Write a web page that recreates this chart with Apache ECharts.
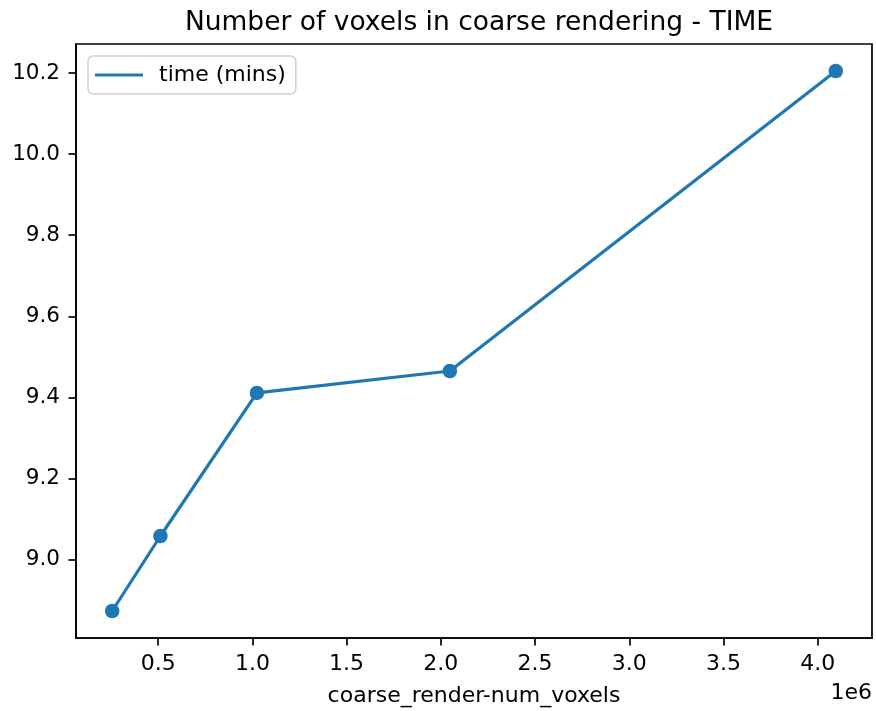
<!DOCTYPE html>
<html>
<head>
<meta charset="utf-8">
<script src="https://cdn.jsdelivr.net/npm/echarts@6/dist/echarts.min.js"></script>
<style>
  html, body { margin: 0; padding: 0; background: #fff; }
  #chart { width: 876px; height: 711px; }
</style>
</head>
<body>
<div id="chart"></div>
<script>
// Render time against coarse voxel count
const voxelCounts = [256000, 512000, 1024000, 2048000, 4096000];
const timeMins = [8.873, 9.058, 9.411, 9.465, 10.205];
const xTicks = [500000, 1000000, 1500000, 2000000, 2500000, 3000000, 3500000, 4000000];
const yTicks = [9.0, 9.2, 9.4, 9.6, 9.8, 10.0, 10.2];
const seriesName = 'time (mins)';

const FONT = 'DejaVu Sans';
const BLUE = '#1f77b4';

// 5% padding around the data range on both axes
const xSpan = voxelCounts[voxelCounts.length - 1] - voxelCounts[0];
const xMin = voxelCounts[0] - 0.05 * xSpan;
const xMax = voxelCounts[voxelCounts.length - 1] + 0.05 * xSpan;
const yLo = Math.min(...timeMins), yHi = Math.max(...timeMins);
const yMin = yLo - 0.05 * (yHi - yLo);
const yMax = yHi + 0.05 * (yHi - yLo);

const chart = echarts.init(document.getElementById('chart'), null, { renderer: 'canvas' });

const axisCommon = {
  axisLine: { show: true, onZero: false, lineStyle: { color: '#000', width: 1.7 } },
  axisTick: { show: true, inside: false, length: 7.5, lineStyle: { color: '#000', width: 1.7 } },
  splitLine: { show: false },
};

chart.setOption({
  animation: false,
  backgroundColor: '#fff',
  title: {
    text: 'Number of voxels in coarse rendering - TIME',
    left: 474, top: 5, textAlign: 'center',
    textStyle: { fontFamily: FONT, fontSize: 26.5, fontWeight: 'normal', color: '#000' }
  },
  grid: {
    left: 76, top: 44, right: 4, bottom: 73,
    containLabel: false, outerBoundsMode: 'none',
    show: true, borderColor: '#000', borderWidth: 1.7, backgroundColor: 'transparent'
  },
  legend: {
    show: true,
    left: 88, top: 56,
    orient: 'vertical',
    padding: [8, 10, 8, 7],
    itemWidth: 48, itemHeight: 3.2, itemGap: 0,
    backgroundColor: 'rgba(255,255,255,0.8)',
    borderColor: '#d0d0d0', borderWidth: 1.5, borderRadius: 5,
    textStyle: { fontFamily: FONT, fontSize: 22, color: '#000', padding: [0, 0, 0, 11] },
    data: [{ name: seriesName, icon: 'rect' }]
  },
  xAxis: Object.assign({}, axisCommon, {
    type: 'value',
    min: xMin, max: xMax,
    name: 'coarse_render-num_voxels',
    nameLocation: 'middle', nameGap: 47,
    nameTextStyle: { fontFamily: FONT, fontSize: 22, color: '#000' },
    axisTick: Object.assign({}, axisCommon.axisTick, { customValues: xTicks }),
    axisLabel: {
      customValues: xTicks,
      fontFamily: FONT, fontSize: 22, color: '#000', margin: 15,
      formatter: v => (v / 1e6).toFixed(1)
    }
  }),
  yAxis: Object.assign({}, axisCommon, {
    type: 'value',
    min: yMin, max: yMax,
    axisTick: Object.assign({}, axisCommon.axisTick, { customValues: yTicks }),
    axisLabel: {
      customValues: yTicks,
      fontFamily: FONT, fontSize: 21.5, color: '#000', margin: 16,
      formatter: v => v.toFixed(1)
    }
  }),
  graphic: [{
    type: 'text',
    right: 4, top: 682,
    style: { text: '1e6', fontFamily: FONT, fontSize: 22, fill: '#000' }
  }],
  series: [{
    name: seriesName,
    type: 'line',
    data: voxelCounts.map((x, i) => [x, timeMins[i]]),
    color: BLUE,
    lineStyle: { color: BLUE, width: 3.2 },
    itemStyle: { color: BLUE },
    symbol: 'circle',
    symbolSize: 14.5,
    showAllSymbol: true,
    z: 3
  }]
});
</script>
</body>
</html>
